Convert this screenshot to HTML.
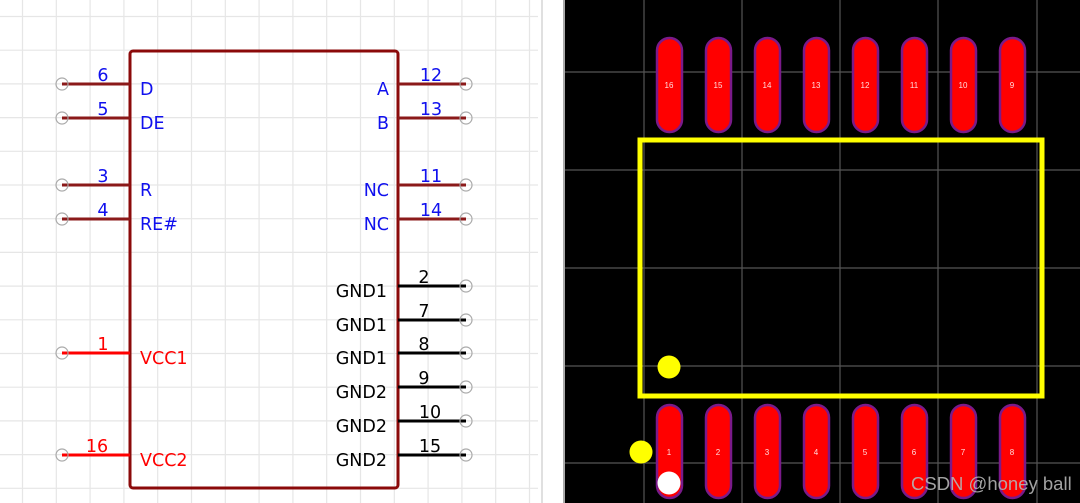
<!DOCTYPE html>
<html><head><meta charset="utf-8"><style>
html,body{margin:0;padding:0;background:#fff;}
svg{display:block;}
.b{font-family:"DejaVu Sans","Liberation Sans",sans-serif;font-size:17.5px;}
</style></head><body>
<svg width="1080" height="503" viewBox="0 0 1080 503" xmlns="http://www.w3.org/2000/svg">
<rect width="1080" height="503" fill="#fff"/>
<g stroke="#e6e6e6" stroke-width="1.2">
<path d="M22.5 0V503M56.3 0V503M90.1 0V503M123.9 0V503M157.7 0V503M191.5 0V503M225.3 0V503M259.1 0V503M292.9 0V503M326.7 0V503M360.5 0V503M394.3 0V503M428.1 0V503M461.9 0V503M495.7 0V503M529.5 0V503"/>
<path d="M0 16.5H538M0 50.2H538M0 83.9H538M0 117.6H538M0 151.3H538M0 185H538M0 218.7H538M0 252.4H538M0 286.1H538M0 319.8H538M0 353.5H538M0 387.2H538M0 420.9H538M0 454.6H538M0 488.3H538"/>
</g>
<rect x="541" y="0" width="2" height="503" fill="#e0e0e0"/>
<rect x="563" y="0" width="2" height="503" fill="#aaa"/>
<rect x="130" y="51" width="268" height="437" rx="3" fill="none" stroke="#8b0a0a" stroke-width="3"/>
<g stroke-width="3">
<path d="M62 84H130M62 118H130M62 185H130M62 219H130M398 84H466M398 118H466M398 185H466M398 219H466" stroke="#8b1a1a"/>
<path d="M62 353H130M62 455H130" stroke="#f00"/>
<path d="M398 286H466M398 320H466M398 353H466M398 387H466M398 421H466M398 455H466" stroke="#000"/>
</g>
<g fill="none" stroke="#aaa" stroke-width="1.2">
<circle cx="62" cy="84" r="6"/><circle cx="62" cy="118" r="6"/><circle cx="62" cy="185" r="6"/><circle cx="62" cy="219" r="6"/>
<circle cx="62" cy="353" r="6"/><circle cx="62" cy="455" r="6"/>
<circle cx="466" cy="84" r="6"/><circle cx="466" cy="118" r="6"/><circle cx="466" cy="185" r="6"/><circle cx="466" cy="219" r="6"/>
<circle cx="466" cy="286" r="6"/><circle cx="466" cy="320" r="6"/><circle cx="466" cy="353" r="6"/><circle cx="466" cy="387" r="6"/><circle cx="466" cy="421" r="6"/><circle cx="466" cy="455" r="6"/>
</g>
<g class="b" fill="#1010ee">
<text x="140" y="95">D</text><text x="140" y="129">DE</text><text x="140" y="196">R</text><text x="140" y="230">RE#</text>
<text x="389" y="95" text-anchor="end">A</text><text x="389" y="129" text-anchor="end">B</text><text x="389" y="196" text-anchor="end">NC</text><text x="389" y="230" text-anchor="end">NC</text>
<text x="103" y="81" text-anchor="middle">6</text><text x="103" y="115" text-anchor="middle">5</text><text x="103" y="182" text-anchor="middle">3</text><text x="103" y="216" text-anchor="middle">4</text>
<text x="431" y="81" text-anchor="middle">12</text><text x="431" y="115" text-anchor="middle">13</text><text x="431" y="182" text-anchor="middle">11</text><text x="431" y="216" text-anchor="middle">14</text>
</g>
<g class="b" fill="#f00">
<text x="140" y="364">VCC1</text><text x="140" y="466">VCC2</text>
<text x="103" y="350" text-anchor="middle">1</text><text x="97" y="452" text-anchor="middle">16</text>
</g>
<g class="b" fill="#000">
<text x="387" y="297" text-anchor="end">GND1</text><text x="387" y="331" text-anchor="end">GND1</text><text x="387" y="364" text-anchor="end">GND1</text>
<text x="387" y="398" text-anchor="end">GND2</text><text x="387" y="432" text-anchor="end">GND2</text><text x="387" y="466" text-anchor="end">GND2</text>
<text x="424" y="283" text-anchor="middle">2</text><text x="424" y="317" text-anchor="middle">7</text><text x="424" y="350" text-anchor="middle">8</text>
<text x="424" y="384" text-anchor="middle">9</text><text x="430" y="418" text-anchor="middle">10</text><text x="430" y="452" text-anchor="middle">15</text>
</g>
<rect x="565" y="0" width="515" height="503" fill="#000"/>
<g stroke="#555" stroke-width="1.2">
<path d="M644 0V503M742 0V503M840 0V503M938 0V503M1037 0V503M565 72H1080M565 170H1080M565 268H1080M565 366H1080M565 463H1080"/>
</g>
<g fill="#f00" stroke="#7a1a8a" stroke-width="2.5">
<rect x="657" y="38" width="25" height="94" rx="12.5"/><rect x="706" y="38" width="25" height="94" rx="12.5"/><rect x="755" y="38" width="25" height="94" rx="12.5"/><rect x="804" y="38" width="25" height="94" rx="12.5"/>
<rect x="853" y="38" width="25" height="94" rx="12.5"/><rect x="902" y="38" width="25" height="94" rx="12.5"/><rect x="951" y="38" width="25" height="94" rx="12.5"/><rect x="1000" y="38" width="25" height="94" rx="12.5"/>
<rect x="657" y="405" width="25" height="93" rx="12.5"/><rect x="706" y="405" width="25" height="93" rx="12.5"/><rect x="755" y="405" width="25" height="93" rx="12.5"/><rect x="804" y="405" width="25" height="93" rx="12.5"/>
<rect x="853" y="405" width="25" height="93" rx="12.5"/><rect x="902" y="405" width="25" height="93" rx="12.5"/><rect x="951" y="405" width="25" height="93" rx="12.5"/><rect x="1000" y="405" width="25" height="93" rx="12.5"/>
</g>
<g font-family="Liberation Sans,sans-serif" font-size="8" fill="#fdd" text-anchor="middle">
<text x="669" y="88">16</text><text x="718" y="88">15</text><text x="767" y="88">14</text><text x="816" y="88">13</text><text x="865" y="88">12</text><text x="914" y="88">11</text><text x="963" y="88">10</text><text x="1012" y="88">9</text>
<text x="669" y="455">1</text><text x="718" y="455">2</text><text x="767" y="455">3</text><text x="816" y="455">4</text><text x="865" y="455">5</text><text x="914" y="455">6</text><text x="963" y="455">7</text><text x="1012" y="455">8</text>
</g>
<rect x="640" y="140" width="402" height="256" fill="none" stroke="#ff0" stroke-width="5"/>
<circle cx="669" cy="367" r="11.5" fill="#ff0"/>
<circle cx="641" cy="452" r="11.5" fill="#ff0"/>
<circle cx="669" cy="483" r="11.5" fill="#fff"/>
<text x="911" y="490" font-family="Liberation Sans,sans-serif" font-size="18.5" fill="#b4b4b4" fill-opacity="0.9">CSDN @honey ball</text>
</svg>
</body></html>
